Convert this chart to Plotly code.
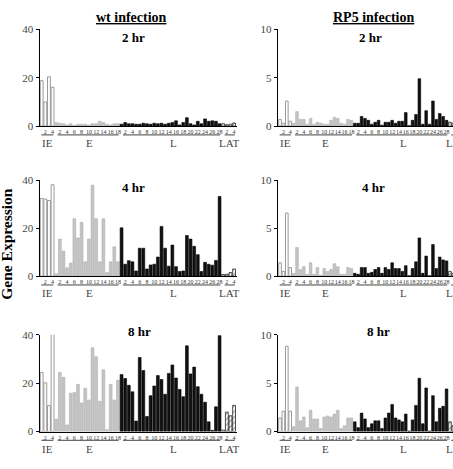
import plotly.graph_objects as go

W, H = 453, 469

# ---------------- data ----------------
groups = ["IE", "E", "L", "LAT"]
group_sizes = [4, 18, 28, 4]
ie_ticks = ["2", "4"]
e_ticks = ["2", "4", "6", "8", "10", "12", "14", "16", "18"]
l_ticks = ["2", "4", "6", "8", "10", "12", "14", "16", "18", "20", "22", "24", "26", "28"]
lat_ticks = ["2", "4"]

# wt infection
wt_2hr_ie = [18.8, 10.0, 20.4, 16.1]
wt_2hr_e = [1.5, 1.2, 1.0, 0.5, 1.0, 0.3, 0.8, 0.8, 0.8, 0.5, 1.0, 1.0, 2.0, 1.5, 0.8, 0.5, 1.0, 1.0]
wt_2hr_l = [0.8, 1.5, 1.0, 1.0, 0.8, 0.8, 1.2, 1.0, 0.8, 1.2, 1.0, 1.2, 0.8, 1.2,
            1.5, 2.2, 0.5, 1.5, 3.5, 1.0, 0.5, 2.0, 1.0, 3.0, 2.0, 2.2, 2.0, 1.0]
wt_2hr_lat = [1.0, 0.6, 0.8, 1.3]

wt_4hr_ie = [32.5, 32.2, 31.6, 38.2]
wt_4hr_e = [1.0, 15.5, 10.5, 3.5, 5.5, 24.0, 16.0, 22.5, 6.0, 15.5, 38.0, 24.0, 6.0, 24.0, 1.5, 6.0, 12.3, 6.0]
wt_4hr_l = [20.2, 5.0, 6.5, 6.0, 2.2, 11.7, 11.7, 3.0, 4.7, 5.0, 8.0, 20.8, 11.7, 4.2,
            13.0, 4.0, 2.0, 2.2, 17.0, 15.5, 12.5, 9.0, 2.0, 5.8, 5.0, 4.6, 6.6, 33.3]
wt_4hr_lat = [0.7, 0.8, 1.5, 3.0]

wt_8hr_ie = [24.4, 20.1, 10.7, 40.9]
wt_8hr_e = [5.1, 24.4, 22.4, 2.7, 15.8, 16.1, 19.5, 11.8, 17.9, 13.0, 34.6, 30.9, 12.5, 25.5, 0.7, 19.5, 13.0, 21.2]
wt_8hr_l = [23.5, 21.9, 19.1, 16.4, 4.3, 30.6, 25.2, 6.2, 14.8, 18.8, 23.1, 21.5, 15.4, 24.0,
            27.5, 22.1, 17.4, 14.4, 35.4, 23.8, 26.6, 18.5, 15.4, 12.1, 4.0, 0.5, 10.2, 39.6]
wt_8hr_lat = [0.6, 8.0, 6.5, 10.8]

# RP5 infection
rp5_2hr_ie = [0.7, 0.3, 2.6, 0.5]
rp5_2hr_e = [0.3, 1.5, 0.7, 0.7, 0.2, 0.8, 0.2, 0.4, 0.3, 0.2, 0.2, 0.6, 0.9, 0.8, 0.3, 0.2, 0.7, 0.6]
rp5_2hr_l = [0.3, 0.3, 1.0, 0.8, 0.6, 0.2, 0.4, 0.6, 0.1, 0.4, 0.4, 0.6, 0.3, 0.5,
             0.5, 1.4, 0.05, 0.6, 1.2, 4.9, 0.2, 1.6, 0.2, 2.6, 0.7, 1.3, 1.0, 0.6]
rp5_2hr_lat = [0.4, 0.3, 0.3, 0.4]

rp5_4hr_ie = [1.4, 0.5, 6.6, 0.9]
rp5_4hr_e = [0.3, 3.0, 0.7, 1.0, 0.2, 1.4, 0.2, 0.9, 0.1, 0.8, 0.5, 0.7, 1.3, 1.0, 0.2, 0.2, 0.9, 0.8]
rp5_4hr_l = [0.3, 0.2, 0.9, 0.9, 0.3, 0.4, 0.7, 0.9, 0.3, 0.9, 0.7, 1.4, 0.8, 0.8,
             0.5, 1.1, 0.05, 0.8, 1.5, 4.0, 0.3, 2.1, 0.05, 3.3, 0.8, 2.0, 1.7, 1.6]
rp5_4hr_lat = [0.5, 0.3, 0.3, 0.4]

rp5_8hr_ie = [1.4, 2.1, 8.8, 2.1]
rp5_8hr_e = [0.5, 4.6, 1.1, 1.5, 0.4, 2.2, 1.3, 1.3, 0.3, 1.5, 1.6, 1.5, 1.8, 2.2, 0.3, 0.6, 1.4, 1.4]
rp5_8hr_l = [1.0, 0.4, 1.9, 1.3, 0.4, 0.8, 1.1, 1.1, 0.3, 1.4, 1.9, 2.8, 1.4, 1.2,
             1.0, 1.8, 0.05, 1.2, 2.7, 5.5, 0.8, 4.5, 0.05, 3.7, 1.0, 2.4, 2.6, 4.4]
rp5_8hr_lat = [1.0, 0.6, 0.5, 0.8]

col_titles = ["wt infection", "RP5 infection"]
row_titles = ["2 hr", "4 hr", "8 hr"]
y_title = "Gene Expression"
left_yticks = [0, 20, 40]
right_yticks = [0, 5, 10]

panels = [
    [[wt_2hr_ie, wt_2hr_e, wt_2hr_l, wt_2hr_lat], [rp5_2hr_ie, rp5_2hr_e, rp5_2hr_l, rp5_2hr_lat]],
    [[wt_4hr_ie, wt_4hr_e, wt_4hr_l, wt_4hr_lat], [rp5_4hr_ie, rp5_4hr_e, rp5_4hr_l, rp5_4hr_lat]],
    [[wt_8hr_ie, wt_8hr_e, wt_8hr_l, wt_8hr_lat], [rp5_8hr_ie, rp5_8hr_e, rp5_8hr_l, rp5_8hr_lat]],
]
group_ticks = [ie_ticks, e_ticks, l_ticks, lat_ticks]

# ---------------- layout / styles ----------------
SERIF = "Liberation Serif, Times New Roman, serif"
x_domains = [[39.5 / W, 237.0 / W], [277.7 / W, 1.0]]
x_ranges = [[-0.6, 53.8], [-0.68, 50.9]]
y_ranges = [[0, 40], [0, 10]]
y_tickvals = [left_yticks, right_yticks]
row_px = [(24.0, 123.3), (179.0, 277.3), (337.3, 436.7)]  # top, bottom (pixels from top)

styles = [
    dict(color="white", line=dict(color="#9a9a9a", width=1)),
    dict(color="#c4c4c4", line=dict(color="#b0b0b0", width=0.6)),
    dict(color="#111111", line=dict(color="#000000", width=0.6)),
    dict(color="white", line=dict(color="#222222", width=0.8),
         pattern=dict(shape="/", fgcolor="#222222", bgcolor="white", size=4, solidity=0.25)),
]

offsets = []
acc = 0
for s in group_sizes:
    offsets.append(acc)
    acc += s

fig = go.Figure()
shapes = []
annotations = []
layout_axes = {}

for r in range(3):
    top_px, bot_px = row_px[r]
    y_dom = [1 - bot_px / H, 1 - top_px / H]
    for c in range(2):
        n = r * 2 + c + 1
        xname = "x" if n == 1 else f"x{n}"
        yname = "y" if n == 1 else f"y{n}"
        xkey = "xaxis" if n == 1 else f"xaxis{n}"
        ykey = "yaxis" if n == 1 else f"yaxis{n}"
        data = panels[r][c]
        tickvals, ticktext = [], []
        for g in range(4):
            xs = [offsets[g] + i for i in range(group_sizes[g])]
            fig.add_trace(go.Bar(x=xs, y=data[g], xaxis=xname, yaxis=yname,
                                 marker=styles[g], cliponaxis=False,
                                 hoverinfo="skip", showlegend=False))
            for t in group_ticks[g]:
                tickvals.append(offsets[g] + int(t) - 1)
                ticktext.append(t)
        xr = x_ranges[c]
        xd = x_domains[c]
        ppu = (xd[1] - xd[0]) * W / (xr[1] - xr[0])
        layout_axes[xkey] = dict(domain=xd, range=xr, anchor=yname, showline=True,
                                 linecolor="black", linewidth=1, ticks="",
                                 tickvals=tickvals, ticktext=ticktext, tickangle=0,
                                 tickfont=dict(family=SERIF, size=6, color="#333"),
                                 showgrid=False, zeroline=False, fixedrange=True)
        layout_axes[ykey] = dict(domain=y_dom, range=y_ranges[c], anchor=xname,
                                 showline=True, linecolor="black", linewidth=1,
                                 ticks="outside", ticklen=3, tickcolor="black",
                                 tickvals=y_tickvals[c],
                                 tickfont=dict(family=SERIF, size=11, color="#444"),
                                 showgrid=False, zeroline=False, fixedrange=True)
        # group underlines and labels
        y_line = y_dom[0] - 9.0 / H
        y_lab = y_dom[0] - 17.5 / H
        for g in range(4):
            start = offsets[g]
            end = offsets[g] + group_sizes[g] - 1
            shapes.append(dict(type="line", xref=xname, yref="paper",
                               x0=start + 0.4 if g else start - 0.1, x1=end + 0.2,
                               y0=y_line, y1=y_line,
                               line=dict(color="#444", width=1)))
            cx = (start + end) / 2 + (0.8 if g in (1, 2) else 0.2)
            shift = 0
            if cx > xr[1] - 0.01:
                shift = (cx - (xr[1] - 0.01)) * ppu
                cx = xr[1] - 0.01
            annotations.append(dict(text=groups[g], xref=xname, yref="paper",
                                    x=cx, y=y_lab, xshift=shift, showarrow=False,
                                    xanchor="center", yanchor="middle",
                                    font=dict(family=SERIF, size=11, color="#444")))

# column titles
col_title_px = [131.0, 373.0]
for c in range(2):
    annotations.append(dict(text="<b>" + col_titles[c] + "</b>", xref="paper", yref="paper",
                            x=col_title_px[c] / W, y=1 - 12.0 / H, showarrow=False,
                            xanchor="center", yanchor="middle",
                            font=dict(family=SERIF, size=14, color="black", lineposition="under")))
# row titles
row_title_px = [[(133.3, 32.0), (370.8, 32.0)],
                [(133.7, 186.7), (373.7, 186.7)],
                [(139.7, 334.0), (378.7, 334.0)]]
for r in range(3):
    for c in range(2):
        px, py = row_title_px[r][c]
        annotations.append(dict(text="<b>" + row_titles[r] + "</b>", xref="paper", yref="paper",
                                x=px / W, y=1 - py / H, showarrow=False,
                                xanchor="center", yanchor="middle",
                                font=dict(family=SERIF, size=13, color="black")))
# y title
annotations.append(dict(text="<b>" + y_title + "</b>", xref="paper", yref="paper",
                        x=7.0 / W, y=1 - 244.0 / H, showarrow=False, textangle=-90,
                        xanchor="center", yanchor="middle",
                        font=dict(family=SERIF, size=15.5, color="black")))

fig.update_layout(width=W, height=H, margin=dict(l=0, r=0, t=0, b=0),
                  paper_bgcolor="white", plot_bgcolor="white",
                  barmode="overlay", bargap=0.22, showlegend=False,
                  shapes=shapes, annotations=annotations, **layout_axes)

fig.write_html("out.html")
